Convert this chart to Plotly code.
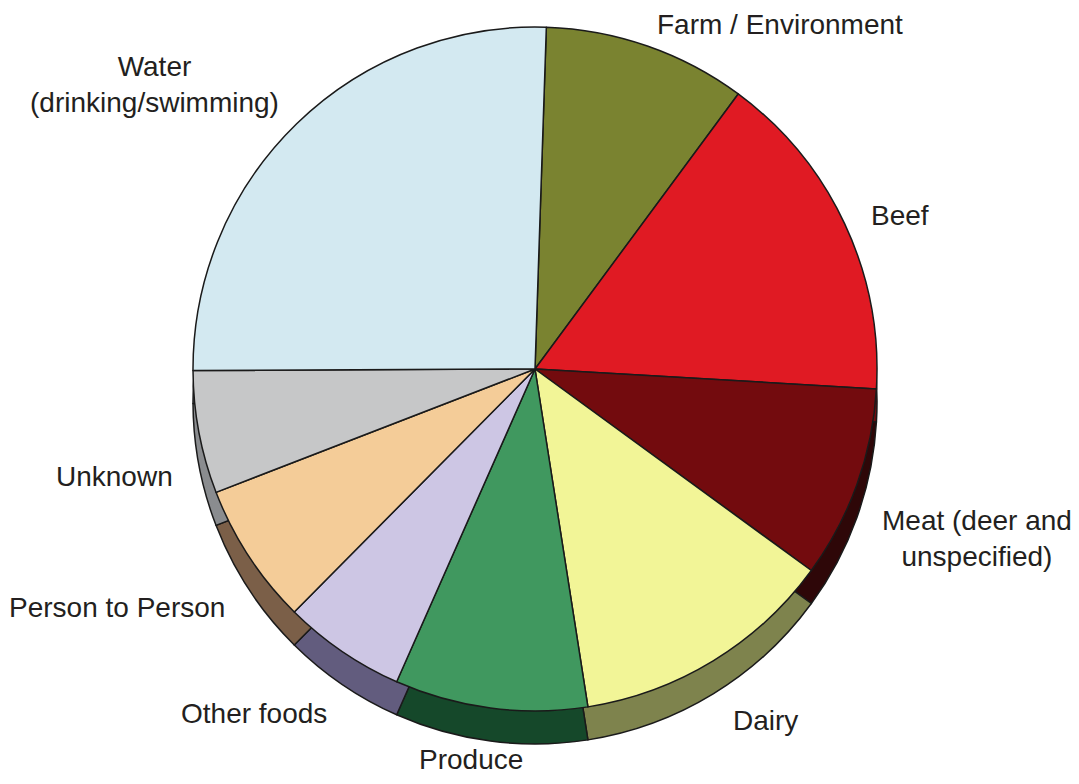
import plotly.graph_objects as go

# ---- data ----
categories = ["Farm / Environment", "Beef", "Meat (deer and unspecified)", "Dairy",
              "Produce", "Other foods", "Person to Person", "Unknown",
              "Water (drinking/swimming)"]
values = [9.6, 15.8, 9.1, 12.5, 9.1, 5.8, 6.7, 5.8, 25.6]
label_texts = ["Farm / Environment", "Beef", "Meat (deer and<br>unspecified)", "Dairy",
               "Produce", "Other foods", "Person to Person", "Unknown",
               "Water<br>(drinking/swimming)"]

# ---- styling ----
top_colors = ["#7a8330", "#e01a23", "#730b0e", "#f2f597", "#40985f",
              "#cdc6e4", "#f4cc98", "#c6c7c8", "#d3e9f1"]
side_colors = ["#3d4118", "#6e0c10", "#2e0708", "#7e834d", "#15482a",
               "#625c7e", "#7b5f48", "#8a8c8f", "#6a7679"]
# label centres in window pixels
label_pos = [(780, 24), (900, 215), (977, 538), (765, 720), (471, 759),
             (254, 713), (117, 607), (114, 476), (154, 84)]

WIN_W, WIN_H, BODY_MARGIN = 1079, 784, 8
W, H = WIN_W - 2 * BODY_MARGIN, WIN_H - 2 * BODY_MARGIN
cx, cy, r, depth = 535, 369, 342, 33   # window pixels
start_angle = 1.9


def fx(px):
    return (px - BODY_MARGIN) / W


def fy(py):
    return 1 - (py - BODY_MARGIN) / H


def domain(center_y):
    return dict(x=[fx(cx - r), fx(cx + r)],
                y=[fy(center_y + r), fy(center_y - r)])


fig = go.Figure()
# side wall (darker pie shifted down)
fig.add_trace(go.Pie(
    labels=categories, values=values, sort=False, direction="clockwise",
    rotation=start_angle, textinfo="none", hoverinfo="skip", showlegend=False,
    marker=dict(colors=side_colors, line=dict(color="#1a1a1a", width=1.5)),
    domain=domain(cy + depth)))
# top face
fig.add_trace(go.Pie(
    labels=categories, values=values, sort=False, direction="clockwise",
    rotation=start_angle, textinfo="none", hoverinfo="label+percent",
    showlegend=False,
    marker=dict(colors=top_colors, line=dict(color="#1a1a1a", width=1.5)),
    domain=domain(cy)))

for txt, (px, py) in zip(label_texts, label_pos):
    fig.add_annotation(text=txt, x=fx(px), y=fy(py), xref="paper", yref="paper",
                       xanchor="center", yanchor="middle", showarrow=False,
                       font=dict(family="Liberation Sans, Arial, sans-serif",
                                 size=28, color="#231f20"))

fig.update_layout(width=W, height=H, margin=dict(l=0, r=0, t=0, b=0),
                  paper_bgcolor="white", plot_bgcolor="white")
fig.write_html("out.html")
